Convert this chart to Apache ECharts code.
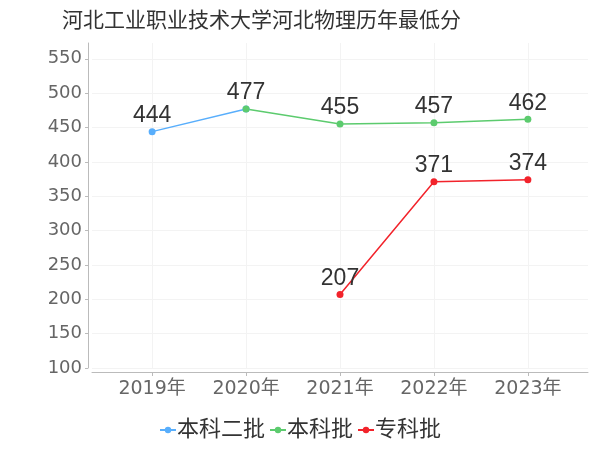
<!DOCTYPE html>
<html>
<head>
<meta charset="utf-8">
<script src="https://cdn.jsdelivr.net/npm/echarts@6/dist/echarts.min.js"></script>
<style>
  html, body { margin: 0; padding: 0; background: #fff; }
  #chart { width: 600px; height: 450px; }
</style>
</head>
<body>
<div id="chart"></div>
<script>
const years = ['2019年', '2020年', '2021年', '2022年', '2023年']
const benke2 = [444, 477, null, null, null]
const benke = [null, 477, 455, 457, 462]
const zhuanke = [null, null, 207, 371, 374]
const yTicks = [100, 150, 200, 250, 300, 350, 400, 450, 500, 550]

const font = "'DejaVu Sans', 'Noto Sans CJK SC', sans-serif"
const labelFont = "'Liberation Sans', 'Noto Sans CJK SC', sans-serif"
const idx = years.map((_, i) => i)

function points(values) {
  return values.map((v, i) => [i, v])
}

function line(name, values, color) {
  return {
    name,
    type: 'line',
    data: points(values),
    symbol: 'circle',
    symbolSize: 7,
    lineStyle: {width: 1.5, color},
    itemStyle: {color},
    labelLayout: {hideOverlap: true},
    label: {
      show: true,
      position: 'top',
      distance: 1,
      fontSize: 23,
      color: '#333',
      fontFamily: labelFont
    }
  }
}

const chart = echarts.init(document.getElementById('chart'))
chart.setOption({
  animation: false,
  title: {
    text: '河北工业职业技术大学河北物理历年最低分',
    left: 57,
    top: 6,
    textStyle: {fontSize: 21, fontWeight: 'normal', color: '#333', fontFamily: font}
  },
  legend: {
    bottom: 4,
    left: 'center',
    itemGap: 4,
    itemWidth: 16,
    itemHeight: 8,
    textStyle: {fontSize: 22, color: '#333', fontFamily: font, padding: [0, 0, 0, -4]},
    data: ['本科二批', '本科批', '专科批']
  },
  grid: {left: 92, right: 12, top: 43, bottom: 82},
  xAxis: {
    type: 'value',
    min: -0.64,
    max: 4.64,
    offset: 4,
    axisLine: {show: true, onZero: false, lineStyle: {color: '#bbb'}},
    axisTick: {show: true, customValues: idx, length: 4, lineStyle: {color: '#bbb'}},
    axisLabel: {
      customValues: idx,
      formatter: v => years[Math.round(v)],
      fontSize: 19,
      color: '#666',
      margin: 8,
      fontFamily: font
    },
    splitLine: {show: true, customValues: idx, lineStyle: {color: '#f3f3f3'}}
  },
  yAxis: {
    type: 'value',
    min: 100,
    max: 573,
    offset: 4,
    axisLine: {show: true, onZero: false, lineStyle: {color: '#bbb'}},
    axisTick: {show: true, customValues: yTicks, length: 3, lineStyle: {color: '#bbb'}},
    axisLabel: {customValues: yTicks, fontSize: 18, color: '#666', margin: 6, fontFamily: font},
    splitLine: {show: true, customValues: yTicks.concat([573]), lineStyle: {color: '#f3f3f3'}}
  },
  series: [
    line('本科二批', benke2, '#58aefc'),
    line('本科批', benke, '#5ccb6e'),
    line('专科批', zhuanke, '#f2232b')
  ]
})
</script>
</body>
</html>
